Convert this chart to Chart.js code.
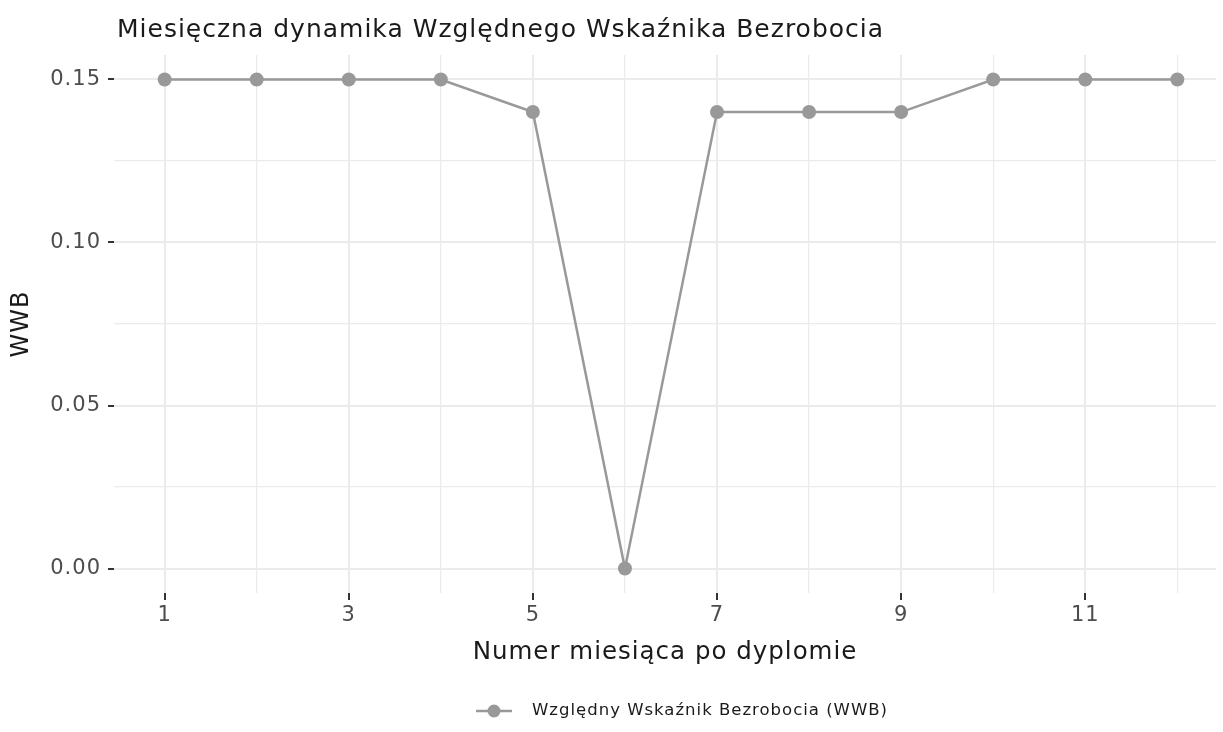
<!DOCTYPE html>
<html>
<head>
<meta charset="utf-8">
<script src="https://cdn.jsdelivr.net/npm/chart.js@4/dist/chart.umd.min.js"></script>
<style>
  html, body { margin: 0; padding: 0; background: #fff; }
  #wrap { width: 1223px; height: 732px; }
</style>
</head>
<body>
<div id="wrap"><canvas id="chart" width="1223" height="732"></canvas></div>
<script>
// dane
const months = [1, 2, 3, 4, 5, 6, 7, 8, 9, 10, 11, 12];
const wwb = [0.15, 0.15, 0.15, 0.15, 0.14, 0.00, 0.14, 0.14, 0.14, 0.15, 0.15, 0.15];
const xTicks = [1, 2, 3, 4, 5, 6, 7, 8, 9, 10, 11, 12];
const xTickLabels = ['1', '', '3', '', '5', '', '7', '', '9', '', '11', ''];
const yTicks = [0, 0.025, 0.05, 0.075, 0.1, 0.125, 0.15];
const yTickLabels = ['0.00', '', '0.05', '', '0.10', '', '0.15'];

const titleText = 'Miesięczna dynamika Względnego Wskaźnika Bezrobocia';
const seriesName = 'Względny Wskaźnik Bezrobocia (WWB)';
const FONT = '"DejaVu Sans", sans-serif';
const SPACING = '1px';
const lineColor = '#999999';

const isMajor = (labels, i) => labels[i] !== '';

// rozstrzelenie liter, zeby szerokosc tekstu byla blizsza Montserrat
const spacing = {
  id: 'spacing',
  beforeUpdate(chart) { chart.ctx.letterSpacing = SPACING; },
  beforeDraw(chart) { chart.ctx.letterSpacing = SPACING; }
};

const titleAndLegend = {
  id: 'titleAndLegend',
  afterDraw(chart) {
    const ctx = chart.ctx;
    ctx.save();
    ctx.letterSpacing = SPACING;
    ctx.fillStyle = '#1a1a1a';
    ctx.font = '25px ' + FONT;
    ctx.textBaseline = 'alphabetic';
    ctx.textAlign = 'left';
    ctx.fillText(titleText, 117, 37);

    // legenda
    ctx.font = '16.5px ' + FONT;
    const tw = ctx.measureText(seriesName).width;
    const total = 36 + 20 + tw;
    const x0 = 682 - total / 2, y = 711;
    ctx.strokeStyle = lineColor;
    ctx.lineWidth = 2.5;
    ctx.beginPath();
    ctx.moveTo(x0, y);
    ctx.lineTo(x0 + 36, y);
    ctx.stroke();
    ctx.fillStyle = lineColor;
    ctx.beginPath();
    ctx.arc(x0 + 18, y, 6.5, 0, Math.PI * 2);
    ctx.fill();
    ctx.fillStyle = '#1a1a1a';
    ctx.textBaseline = 'middle';
    ctx.fillText(seriesName, x0 + 56, y);
    ctx.restore();
  }
};

new Chart(document.getElementById('chart'), {
  type: 'line',
  data: {
    datasets: [{
      label: seriesName,
      data: months.map((m, i) => ({ x: m, y: wwb[i] })),
      borderColor: lineColor,
      backgroundColor: lineColor,
      borderWidth: 2.5,
      pointRadius: 7,
      pointHoverRadius: 7,
      pointBorderWidth: 0,
      tension: 0
    }]
  },
  options: {
    responsive: false,
    animation: false,
    layout: { padding: { top: 55, left: 0, right: 0, bottom: 39 } },
    plugins: {
      legend: { display: false },
      title: { display: false },
      tooltip: { enabled: false }
    },
    scales: {
      x: {
        type: 'linear',
        min: 0.45,
        max: 12.42,
        afterBuildTicks: s => { s.ticks = xTicks.map(v => ({ value: v })); },
        afterFit: s => { s.height = 100; },
        border: { display: false },
        grid: {
          color: '#ebebeb',
          lineWidth: c => isMajor(xTickLabels, c.index) ? 2 : 1.2,
          tickColor: c => isMajor(xTickLabels, c.index) ? '#333333' : 'rgba(0,0,0,0)',
          tickLength: 7,
          tickWidth: 2
        },
        ticks: {
          autoSkip: false,
          maxRotation: 0,
          padding: 3,
          color: '#4d4d4d',
          font: { family: FONT, size: 21 },
          callback: (v, i) => xTickLabels[i]
        },
        title: {
          display: true,
          text: 'Numer miesiąca po dyplomie',
          color: '#1a1a1a',
          font: { family: FONT, size: 24.5 },
          padding: { top: 0, bottom: 26 }
        }
      },
      y: {
        min: -0.0075,
        max: 0.1575,
        afterBuildTicks: s => { s.ticks = yTicks.map(v => ({ value: v })); },
        afterFit: s => { s.width = 114; },
        border: { display: false },
        grid: {
          color: '#ebebeb',
          lineWidth: c => isMajor(yTickLabels, c.index) ? 2 : 1.2,
          tickColor: c => isMajor(yTickLabels, c.index) ? '#333333' : 'rgba(0,0,0,0)',
          tickLength: 6,
          tickWidth: 2
        },
        ticks: {
          autoSkip: false,
          padding: 7,
          color: '#4d4d4d',
          font: { family: FONT, size: 21 },
          callback: (v, i) => yTickLabels[i]
        },
        title: {
          display: true,
          text: 'WWB',
          color: '#1a1a1a',
          font: { family: FONT, size: 24 },
          padding: { top: 7, bottom: 0 }
        }
      }
    }
  },
  plugins: [spacing, titleAndLegend]
});
</script>
</body>
</html>
